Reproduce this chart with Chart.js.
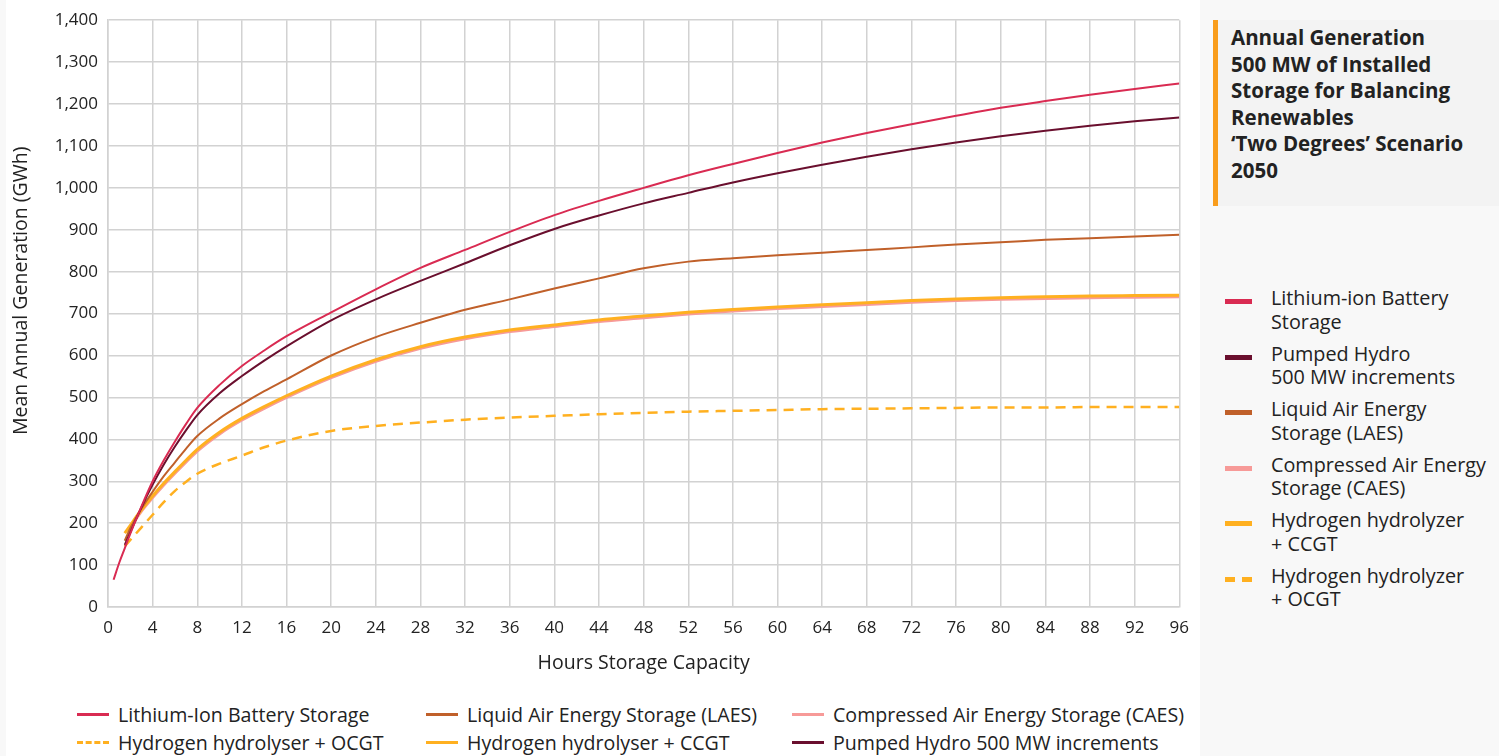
<!DOCTYPE html>
<html>
<head>
<meta charset="utf-8">
<script src="https://cdn.jsdelivr.net/npm/chart.js@4.4.1/dist/chart.umd.min.js"></script>
<style>
  html, body { margin: 0; padding: 0; }
  body { width: 1499px; height: 756px; background: #f8f8f8; position: relative; overflow: hidden; font-family: "Open Sans", sans-serif; color: #222; }
  #card { position: absolute; left: 6px; top: 0; width: 1194px; height: 756px; background: #ffffff; }
  #wrap { position: absolute; left: 0; top: 0; width: 1194px; height: 690px; }
  #bottomLegend { position: absolute; left: 0; top: 700px; width: 1194px; height: 56px; }
  .bl-item { position: absolute; display: flex; align-items: center; font-size: 19.6px; white-space: nowrap; height: 26px; }
  .bl-sw { width: 32px; height: 0; margin-right: 9px; }
  #titleBox { position: absolute; left: 1213px; top: 20px; width: 286px; height: 186px; background: #f3f3f3; border-left: 5px solid #f99d1c; box-sizing: border-box; }
  #titleBox div { position: absolute; left: 13px; top: 4px; font-weight: 700; font-size: 20.5px; line-height: 26.5px; color: #222; white-space: nowrap; }
  #sideLegend { position: absolute; left: 1225px; top: 286px; width: 274px; }
  .sl-item { position: absolute; left: 0; height: 50px; }
  .sl-sw { position: absolute; left: 0; top: 13px; width: 27px; height: 0; }
  .sl-text { position: absolute; left: 46px; top: 0; font-size: 19.8px; line-height: 23.5px; white-space: nowrap; }
</style>
</head>
<body>
<div id="card">
  <div id="wrap"><canvas id="c" width="1194" height="690"></canvas></div>
  <div id="bottomLegend"></div>
</div>
<div id="titleBox"><div id="titleText"></div></div>
<div id="sideLegend"></div>
<script>
// ---- Data ----
const hours = [0.5, 1, 1.5, 2, 3, 4, 5, 6, 7, 8, 10, 12, 14, 16, 20, 24, 28, 32, 36, 40, 44, 48, 52, 56, 60, 64, 68, 72, 76, 80, 84, 88, 92, 96];
const liIon   = [65, 105, 140, 175, 240, 300, 350, 395, 437, 475, 530, 575, 612, 646, 703, 758, 809, 852, 895, 935, 969, 1000, 1030, 1057, 1083, 1108, 1131, 1152, 1172, 1191, 1207, 1222, 1236, 1249];
const pumped  = [null, null, 148, 178, 238, 292, 340, 383, 422, 458, 510, 551, 588, 622, 684, 734, 778, 820, 863, 902, 934, 963, 988, 1013, 1035, 1055, 1074, 1092, 1108, 1123, 1136, 1148, 1159, 1168];
const laes    = [null, null, 158, 188, 235, 275, 312, 345, 378, 408, 450, 484, 515, 543, 600, 644, 678, 709, 734, 760, 784, 808, 824, 832, 839, 845, 852, 858, 865, 870, 876, 880, 884, 888];
const caes    = [null, null, null, 190, 229, 261, 291, 319, 346, 372, 413, 446, 474, 500, 547, 586, 617, 640, 657, 669, 681, 690, 699, 706, 712, 717, 722, 727, 731, 734, 736, 738, 739, 740];
const ccgt    = [null, null, 176, 195, 232, 265, 295, 323, 350, 376, 417, 450, 478, 504, 551, 590, 621, 644, 661, 673, 685, 694, 703, 710, 716, 721, 726, 731, 735, 738, 740, 742, 743, 744];
const ocgt    = [null, null, 145, 160, 190, 220, 250, 277, 299, 318, 342, 361, 381, 397, 420, 432, 440, 447, 452, 456, 460, 463, 466, 468, 470, 472, 473, 474, 475, 476, 476, 477, 477, 477];

const xTicks = [0, 4, 8, 12, 16, 20, 24, 28, 32, 36, 40, 44, 48, 52, 56, 60, 64, 68, 72, 76, 80, 84, 88, 92, 96];
const yTicks = [0, 100, 200, 300, 400, 500, 600, 700, 800, 900, 1000, 1100, 1200, 1300, 1400];

const titleLines = ["Annual Generation", "500 MW of Installed", "Storage for Balancing", "Renewables", "\u2018Two Degrees\u2019 Scenario", "2050"];
const xTitle = "Hours Storage Capacity";
const yTitle = "Mean Annual Generation (GWh)";

// series: label (bottom legend), colour, width, dash
const seriesNames = ["Lithium-Ion Battery Storage", "Liquid Air Energy Storage (LAES)", "Compressed Air Energy Storage (CAES)", "Hydrogen hydrolyser + OCGT", "Hydrogen hydrolyser + CCGT", "Pumped Hydro 500 MW increments"];
const seriesValues = [liIon, laes, caes, ocgt, ccgt, pumped];
const seriesColors = ["#d92b52", "#c0602a", "#f79a98", "#ffb020", "#ffb020", "#6a0f2e"];
const seriesWidths = [2, 2, 3, 2.5, 3, 2];
const seriesDash = [[], [], [], [10, 7], [], []];
const seriesOrder = [0, 2, 4, 5, 3, 1]; // lower draws on top

// side legend (different wording / order)
const sideNames = [["Lithium-ion Battery", "Storage"], ["Pumped Hydro", "500 MW increments"], ["Liquid Air Energy", "Storage (LAES)"], ["Compressed Air Energy", "Storage (CAES)"], ["Hydrogen hydrolyzer", "+ CCGT"], ["Hydrogen hydrolyzer", "+ OCGT"]];
const sideIndex = [0, 5, 1, 2, 4, 3];

// ---- Build ----
const datasets = seriesNames.map((name, i) => ({
  label: name,
  data: hours.map((h, k) => ({ x: h, y: seriesValues[i][k] })).filter(p => p.y !== null),
  borderColor: seriesColors[i],
  backgroundColor: seriesColors[i],
  borderWidth: seriesWidths[i],
  borderDash: seriesDash[i],
  pointRadius: 0,
  fill: false,
  cubicInterpolationMode: 'monotone',
  order: seriesOrder[i]
}));

const FONT = "'Open Sans', sans-serif";
new Chart(document.getElementById('c'), {
  type: 'line',
  data: { datasets },
  options: {
    responsive: false,
    animation: false,
    events: [],
    layout: { padding: { top: 18, right: 18, left: 0, bottom: 0 } },
    plugins: { legend: { display: false }, tooltip: { enabled: false } },
    scales: {
      x: {
        type: 'linear', min: 0, max: 96,
        afterBuildTicks: s => { s.ticks = xTicks.map(v => ({ value: v })); },
        afterFit: s => { s.height = 83; },
        grid: { color: '#d2d2d2', lineWidth: 1.5, drawTicks: false },
        border: { color: '#d2d2d2', width: 1.5 },
        ticks: { padding: 11, color: '#222', font: { family: FONT, size: 17 }, maxRotation: 0 },
        title: { display: true, text: xTitle, color: '#222', font: { family: FONT, size: 19.5 }, padding: { top: 0, bottom: 15 } }
      },
      y: {
        type: 'linear', min: 0, max: 1400,
        afterBuildTicks: s => { s.ticks = yTicks.map(v => ({ value: v })); },
        afterFit: s => { s.width = 102; },
        grid: { color: '#d2d2d2', lineWidth: 1.5, drawTicks: false },
        border: { color: '#d2d2d2', width: 1.5 },
        ticks: { padding: 10, color: '#222', font: { family: FONT, size: 17 },
          callback: v => v.toLocaleString('en-US') },
        title: { display: true, text: "         " + yTitle, color: '#222', font: { family: FONT, size: 19.5 }, padding: { top: 4, bottom: 0 } }
      }
    }
  }
});

// bottom legend
const blCols = [71, 420, 786];
const blRows = [1, 29];
const bl = document.getElementById('bottomLegend');
seriesNames.forEach((name, i) => {
  const el = document.createElement('div');
  el.className = 'bl-item';
  el.style.left = blCols[i % 3] + 'px';
  el.style.top = blRows[Math.floor(i / 3)] + 'px';
  const sw = document.createElement('span');
  sw.className = 'bl-sw';
  sw.style.borderTop = (seriesDash[i].length ? '3px dashed ' : '3px solid ') + seriesColors[i];
  const tx = document.createElement('span');
  tx.textContent = name;
  el.appendChild(sw); el.appendChild(tx);
  bl.appendChild(el);
});

// title
document.getElementById('titleText').innerHTML = titleLines.join('<br>');

// side legend
const sl = document.getElementById('sideLegend');
sideIndex.forEach((si, j) => {
  const it = document.createElement('div');
  it.className = 'sl-item';
  it.style.top = (j * 55.5) + 'px';
  const sw = document.createElement('div');
  sw.className = 'sl-sw';
  sw.style.borderTop = (seriesDash[si].length ? '5px dashed ' : '5px solid ') + seriesColors[si];
  const tx = document.createElement('div');
  tx.className = 'sl-text';
  tx.innerHTML = sideNames[j].join('<br>');
  it.appendChild(sw); it.appendChild(tx);
  sl.appendChild(it);
});
</script>
</body>
</html>
